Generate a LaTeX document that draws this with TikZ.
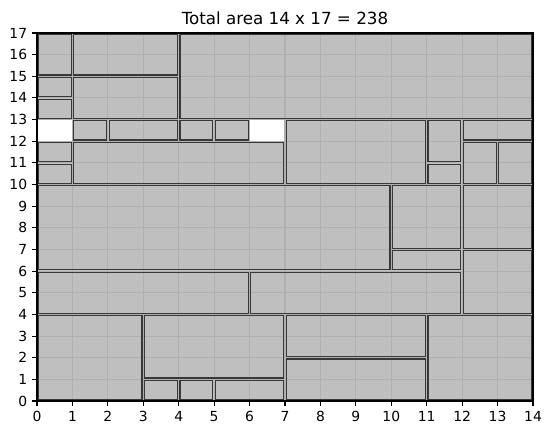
\documentclass[tikz,border=0pt]{standalone}
\usepackage{fontspec}
\setmainfont{DejaVu Sans}
\definecolor{cfill}{HTML}{BFBFBF}
\definecolor{cedge}{HTML}{383838}
\definecolor{cgrid}{HTML}{B0B0B0}
\begin{document}
\begin{tikzpicture}[x=35.4286pt, y=21.647pt,
  tile/.style={draw=cedge, line width=1.2pt},
  gridline/.style={draw=cgrid, line width=1.1pt},
  tick/.style={draw=black, line width=1.1pt},
  ticklabel/.style={font=\fontsize{13.9}{16}\selectfont, inner sep=0pt}]
\useasboundingbox (-37pt,-34pt) rectangle (515pt,401pt);
\def\tiles{0/15/1/2, 1/15/3/2, 4/13/10/4, 0/14/1/1, 0/13/1/1, 1/13/3/2,
  1/12/1/1, 2/12/2/1, 4/12/1/1, 5/12/1/1, 7/10/4/3, 11/11/1/2, 11/10/1/1,
  12/12/2/1, 12/10/1/2, 13/10/1/2, 0/11/1/1, 0/10/1/1, 1/10/6/2,
  0/6/10/4, 10/7/2/3, 10/6/2/1, 12/7/2/3, 12/4/2/3, 0/4/6/2, 6/4/6/2,
  0/0/3/4, 3/1/4/3, 3/0/1/1, 4/0/1/1, 5/0/2/1, 7/2/4/2, 7/0/4/2, 11/0/3/4}
% fills
\foreach \a/\b/\w/\h in \tiles {
  \pgfmathsetmacro{\c}{\a+\w}\pgfmathsetmacro{\d}{\b+\h}
  \fill[cfill] (\a,\b) rectangle (\c,\d);
}
% grid
\foreach \i in {1,...,13} { \draw[gridline] (\i,0) -- (\i,17); }
\foreach \j in {1,...,16} { \draw[gridline] (0,\j) -- (14,\j); }
% tile edges
\foreach \a/\b/\w/\h in \tiles {
  \pgfmathsetmacro{\c}{\a+\w}\pgfmathsetmacro{\d}{\b+\h}
  \draw[tile] ([xshift=1.3pt,yshift=1.3pt]\a,\b) rectangle ([xshift=-1.3pt,yshift=-1.3pt]\c,\d);
}
% spines
\draw[black, line width=1.1pt] (0,0) rectangle (14,17);
% ticks
\foreach \i in {0,...,14} {
  \draw[tick] (\i,0) -- ++(0,-4.9pt);
  \node[ticklabel, anchor=north] (xl\i) at ([yshift=-9.7pt]\i,0) {\i};
}
\foreach \j in {0,...,17} {
  \draw[tick] (0,\j) -- ++(-4.9pt,0);
  \node[ticklabel, anchor=east] (yl\j) at ([xshift=-9.7pt]0,\j) {\j};
}
\node[font=\fontsize{16.7}{20}\selectfont, anchor=base, inner sep=0pt] (title) at ([yshift=8.3pt]7,17) {Total area 14 x 17 = 238};
\end{tikzpicture}
\end{document}
